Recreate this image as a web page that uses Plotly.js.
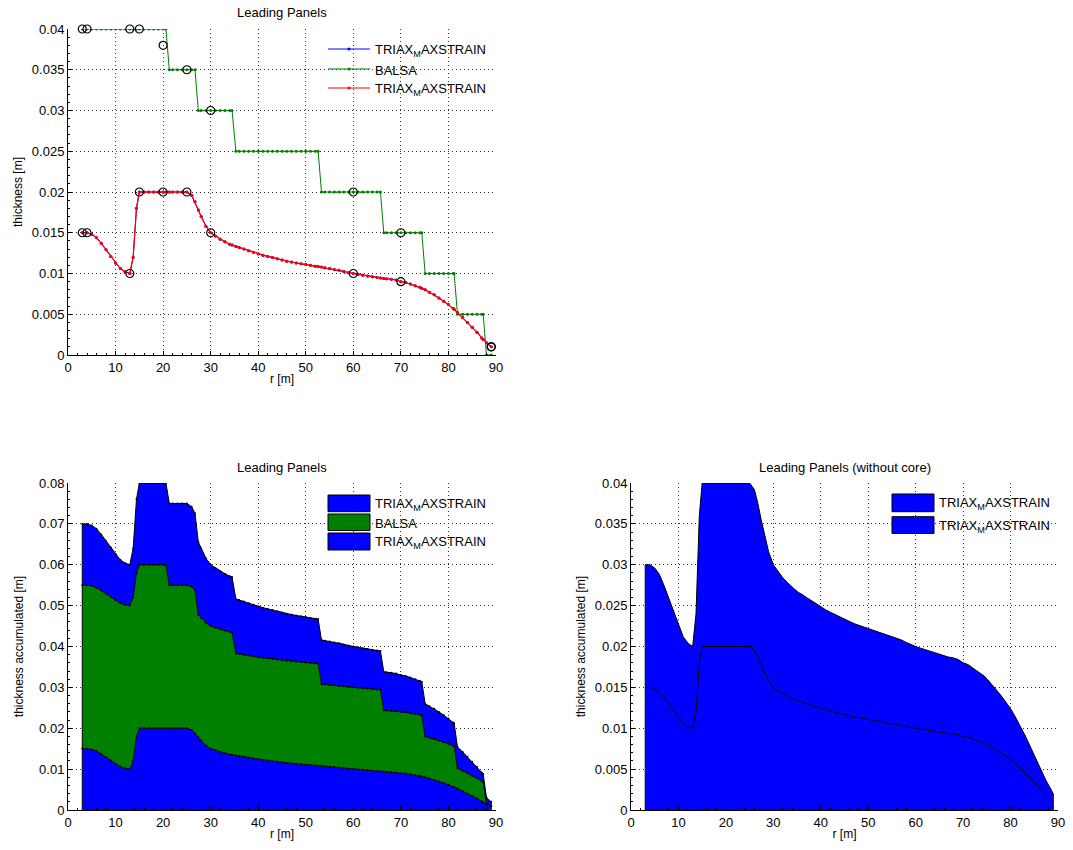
<!DOCTYPE html>
<html><head><meta charset="utf-8">
<script src="https://cdn.plot.ly/plotly-3.0.1.min.js"></script>
<style>html,body{margin:0;padding:0;background:#fff}#chart{width:1073px;height:850px}</style>
</head><body><div id="chart"></div>
<script>
// ---------- data ----------
const rGrid = [
  3,4,5,6,7,8,9,10,11,12,13,
  13.7,14.4,15,16,17,18,19,20,
  20.6,21.3,22,23,24,25,26,
  26.7,27.4,28,29,30,31,32,33,34,
  34.5,35.3,36,37,38,39,40,41,42,43,44,45,46,47,48,49,50,51,52,
  52.6,53.3,54,55,56,57,58,59,60,61,62,63,64,65,
  65.7,66.4,67,68,69,70,71,72,73,74,
  74.4,75.1,76,77,78,79,80,81,
  81.2,81.9,83,84,85,86,87,
  87.3,88,89
];
const triaxThickness = [
  0.015,0.015,0.0148,0.0144,0.0137,0.0129,0.0121,0.0113,0.0106,0.0102,0.0100,
  0.0120,0.0180,0.0200,0.0200,0.0200,0.0200,0.0200,0.0200,
  0.0200,0.0200,0.0200,0.0200,0.0200,0.0200,0.0196,
  0.0188,0.0178,0.0170,0.0158,0.0150,0.0146,0.0142,0.0139,0.0136,
  0.0135,0.0133,0.0132,0.0130,0.0128,0.0126,0.0124,0.01225,0.0121,0.01195,0.0118,0.01165,0.0115,0.0114,0.0113,0.0112,0.0111,0.0110,0.0109,
  0.01085,0.0108,0.0107,0.0106,0.0105,0.0104,0.01025,0.0101,0.0100,0.0099,0.0098,0.0097,0.0096,0.0095,
  0.00945,0.0094,0.00935,0.0093,0.0092,0.0090,0.0089,0.0087,0.0085,0.0083,
  0.0082,0.0080,0.0077,0.0074,0.0070,0.0066,0.0062,0.0057,
  0.0056,0.0052,0.0046,0.0040,0.0034,0.0028,0.0021,
  0.0019,0.0015,0.0010
];
const balsaThickness = [
  0.04,0.04,0.04,0.04,0.04,0.04,0.04,0.04,0.04,0.04,0.04,
  0.04,0.04,0.04,0.04,0.04,0.04,0.04,0.04,
  0.04,0.035,0.035,0.035,0.035,0.035,0.035,
  0.035,0.03,0.03,0.03,0.03,0.03,0.03,0.03,0.03,
  0.03,0.025,0.025,0.025,0.025,0.025,0.025,0.025,0.025,0.025,0.025,0.025,0.025,0.025,0.025,0.025,0.025,0.025,0.025,
  0.025,0.02,0.02,0.02,0.02,0.02,0.02,0.02,0.02,0.02,0.02,0.02,0.02,0.02,
  0.02,0.015,0.015,0.015,0.015,0.015,0.015,0.015,0.015,0.015,
  0.015,0.01,0.01,0.01,0.01,0.01,0.01,0.01,
  0.01,0.005,0.005,0.005,0.005,0.005,0.005,
  0.005,0,0
];
const ctrlR = [3,4,13,15,20,25,30,60,70,89];
const ctrlTriax = [0.015,0.015,0.01,0.02,0.02,0.02,0.015,0.01,0.009,0.001];
const ctrlBalsa = [0.04,0.04,0.04,0.04,0.038,0.035,0.03,0.02,0.015,0.001];
const seriesNames = ['TRIAX<sub>M</sub>AXSTRAIN','BALSA','TRIAX<sub>M</sub>AXSTRAIN'];
const panelTitles = ['Leading Panels','Leading Panels','Leading Panels (without core)'];
const xTitle = 'r [m]';
const yTitles = ['thickness [m]','thickness accumulated [m]','thickness accumulated [m]'];

// ---------- derived ----------
const accInner = triaxThickness.slice();
const accCore = triaxThickness.map((t,i)=>t+balsaThickness[i]);
const accOuter = accCore.map((v,i)=>v+triaxThickness[i]);
const noCoreOuter = triaxThickness.map(t=>t+t);
const nLast = rGrid.length - 1;

const FONT = 'Liberation Sans, Arial, Helvetica, sans-serif';
const W = 1073, H = 850;
const px = v => v / W;
const py = v => 1 - v / H;

const BLUE = '#0000ff', GREEN = '#008000', RED = '#ff0000';
const circ = {symbol:'circle-open',color:'#000',size:8,line:{width:1.2}};

const traces = [
  {x:rGrid,y:triaxThickness,xaxis:'x',yaxis:'y',mode:'lines+markers',line:{color:BLUE,width:1},marker:{color:BLUE,size:3},showlegend:false,name:seriesNames[0]},
  {x:rGrid,y:balsaThickness,xaxis:'x',yaxis:'y',mode:'lines+markers',line:{color:GREEN,width:1},marker:{color:GREEN,size:3},showlegend:false,name:seriesNames[1]},
  {x:rGrid,y:triaxThickness,xaxis:'x',yaxis:'y',mode:'lines+markers',line:{color:RED,width:1.2},marker:{color:RED,size:3},showlegend:false,name:seriesNames[2]},
  {x:ctrlR,y:ctrlTriax,xaxis:'x',yaxis:'y',mode:'markers',marker:circ,cliponaxis:false,showlegend:false},
  {x:ctrlR,y:ctrlBalsa,xaxis:'x',yaxis:'y',mode:'markers',marker:circ,cliponaxis:false,showlegend:false},
  // accumulated with core
  {x:rGrid,y:accInner,xaxis:'x2',yaxis:'y2',mode:'lines+markers',fill:'tozeroy',fillcolor:BLUE,line:{color:'#000',width:1},marker:{color:'#000',size:2},showlegend:false},
  {x:rGrid,y:accCore,xaxis:'x2',yaxis:'y2',mode:'lines+markers',fill:'tonexty',fillcolor:GREEN,line:{color:'#000',width:1},marker:{color:'#000',size:2},showlegend:false},
  {x:rGrid,y:accOuter,xaxis:'x2',yaxis:'y2',mode:'lines+markers',fill:'tonexty',fillcolor:BLUE,line:{color:'#000',width:1},marker:{color:'#000',size:2},showlegend:false},
  {x:[rGrid[0],rGrid[0]],y:[0,accOuter[0]],xaxis:'x2',yaxis:'y2',mode:'lines',line:{color:'#000',width:1},showlegend:false},
  {x:[rGrid[nLast],rGrid[nLast]],y:[0,accOuter[nLast]],xaxis:'x2',yaxis:'y2',mode:'lines',line:{color:'#000',width:1},showlegend:false},
  // without core
  {x:rGrid,y:accInner,xaxis:'x3',yaxis:'y3',mode:'lines',fill:'tozeroy',fillcolor:BLUE,line:{color:'#000',width:1},showlegend:false},
  {x:rGrid,y:noCoreOuter,xaxis:'x3',yaxis:'y3',mode:'lines',fill:'tonexty',fillcolor:BLUE,line:{color:'#000',width:1},showlegend:false},
  {x:[rGrid[0],rGrid[0]],y:[0,noCoreOuter[0]],xaxis:'x3',yaxis:'y3',mode:'lines',line:{color:'#000',width:1},showlegend:false},
  {x:[rGrid[nLast],rGrid[nLast]],y:[0,noCoreOuter[nLast]],xaxis:'x3',yaxis:'y3',mode:'lines',line:{color:'#000',width:1},showlegend:false}
];

function ax(extra){
  return Object.assign({
    showline:true, linecolor:'#000', linewidth:1, mirror:false,
    ticks:'inside', ticklen:4, tickcolor:'#000', tickwidth:1,
    showgrid:true, gridcolor:'#333', griddash:'1px,3px', gridwidth:1,
    zeroline:false, tickfont:{family:FONT,size:13,color:'#000'},
    automargin:false, fixedrange:true, layer:'above traces'
  }, extra);
}
function xax(dom, anchor){
  return ax({domain:dom, anchor:anchor, range:[0,90], tick0:0, dtick:10,
    minor:{ticks:'inside', ticklen:2, tickcolor:'#000', dtick:2, showgrid:false},
    title:{text:xTitle, font:{family:FONT,size:12,color:'#000'}, standoff:1}});
}
function yax(dom, anchor, top, dt, title, standoff){
  return ax({domain:dom, anchor:anchor, range:[0,top], tick0:0, dtick:dt,
    minor:{ticks:'inside', ticklen:2, tickcolor:'#000', dtick:dt/5, showgrid:false},
    title:{text:title, font:{family:FONT,size:12,color:'#000'}, standoff:standoff}});
}

const xd1 = [px(68), px(496)], xd3 = [px(631), px(1058)];
const yTop = [py(355), py(29)], yBot = [py(810), py(483)];

const shapes = [], annotations = [];
[[282,12,0],[282,467,1],[844.5,467,2]].forEach(([x,y,i])=>{
  annotations.push({xref:'paper',yref:'paper',x:px(x),y:py(y),xanchor:'center',yanchor:'middle',showarrow:false,
    text:panelTitles[i],font:{family:FONT,size:13,color:'#000'}});
});
const legColors = [BLUE, GREEN, RED];
[49,69,88].forEach((yy,i)=>{
  shapes.push({type:'line',xref:'paper',yref:'paper',x0:px(328),x1:px(370),y0:py(yy),y1:py(yy),line:{color:legColors[i],width:1}});
  shapes.push({type:'circle',xref:'paper',yref:'paper',x0:px(347.5),x1:px(350.5),y0:py(yy-1.5),y1:py(yy+1.5),fillcolor:legColors[i],line:{color:legColors[i],width:0}});
  annotations.push({xref:'paper',yref:'paper',x:px(373),y:py(yy+1),xanchor:'left',yanchor:'middle',showarrow:false,
    text:seriesNames[i],font:{family:FONT,size:13,color:'#000'}});
});
const patchColors = [BLUE, GREEN, BLUE];
[[495,511.7],[514,530.5],[533,550]].forEach(([a,b],i)=>{
  shapes.push({type:'rect',xref:'paper',yref:'paper',x0:px(328),x1:px(370),y0:py(b),y1:py(a),fillcolor:patchColors[i],line:{color:'#000',width:1}});
  annotations.push({xref:'paper',yref:'paper',x:px(373),y:py((a+b)/2+1),xanchor:'left',yanchor:'middle',showarrow:false,
    text:seriesNames[i],font:{family:FONT,size:13,color:'#000'}});
});
[[494,511.7],[516.7,533.5]].forEach(([a,b],i)=>{
  shapes.push({type:'rect',xref:'paper',yref:'paper',x0:px(892),x1:px(934),y0:py(b),y1:py(a),fillcolor:BLUE,line:{color:'#000',width:1}});
  annotations.push({xref:'paper',yref:'paper',x:px(937),y:py((a+b)/2+1),xanchor:'left',yanchor:'middle',showarrow:false,
    text:seriesNames[0],font:{family:FONT,size:13,color:'#000'}});
});

const layout = {
  width:W, height:H, margin:{l:0,r:0,t:0,b:0},
  paper_bgcolor:'#fff', plot_bgcolor:'rgba(0,0,0,0)',
  font:{family:FONT,size:12,color:'#000'},
  showlegend:false,
  xaxis:xax(xd1,'y'), yaxis:yax(yTop,'x',0.04,0.005,yTitles[0],6),
  xaxis2:xax(xd1,'y2'), yaxis2:yax(yBot,'x2',0.08,0.01,yTitles[1],12),
  xaxis3:xax(xd3,'y3'), yaxis3:yax(yBot,'x3',0.04,0.005,yTitles[2],6),
  shapes:shapes, annotations:annotations
};
Plotly.newPlot('chart', traces, layout, {staticPlot:true, displayModeBar:false});
</script></body></html>
